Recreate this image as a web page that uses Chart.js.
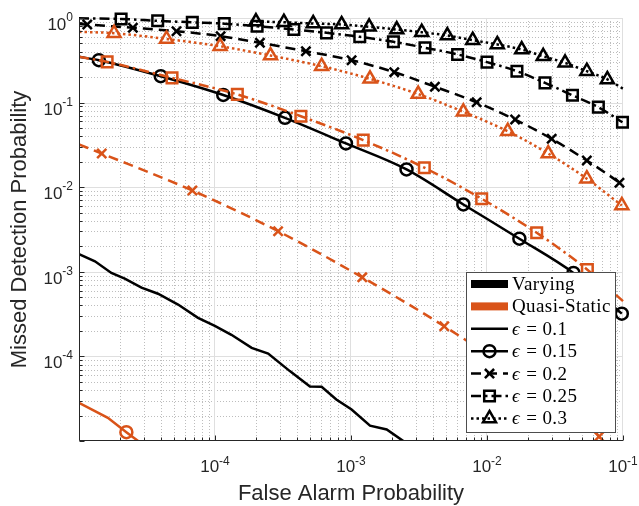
<!DOCTYPE html>
<html>
<head>
<meta charset="utf-8">
<script src="https://cdn.jsdelivr.net/npm/chart.js@4.4.1/dist/chart.umd.min.js"></script>
<style>
  html, body { margin: 0; padding: 0; background: #fff; }
  canvas { display: block; }
</style>
</head>
<body>
<canvas id="chart" width="639" height="506"></canvas>
<script>
// values: false alarm prob (x) vs missed detection prob (y)
const epsLabels = ['0.1', '0.15', '0.2', '0.25', '0.3'];
const groupNames = ['Varying', 'Quasi-Static'];

// Varying
const vFa10 = [1.0e-5, 1.31e-5, 1.73e-5, 2.17e-5, 2.88e-5, 3.81e-5, 5.35e-5, 7.5e-5, 9.97e-5, 1.32e-4, 1.86e-4, 2.46e-4, 3.55e-4, 4.99e-4, 6.08e-4, 7.8e-4, 1.01e-3, 1.38e-3, 1.83e-3, 2.42e-3, 2.9e-3];
const vMd10 = [1.62e-3, 1.33e-3, 9.7e-4, 8.3e-4, 6.5e-4, 5.5e-4, 4.1e-4, 2.86e-4, 2.3e-4, 1.8e-4, 1.26e-4, 1.08e-4, 6.7e-5, 4.4e-5, 4.37e-5, 3.1e-5, 2.36e-5, 1.52e-5, 1.37e-5, 1.0e-5, 7e-6];

const vFa15 = [1e-5, 1.40e-5, 3.99e-5, 1.15e-4, 3.27e-4, 9.18e-4, 2.56e-3, 6.70e-3, 1.73e-2, 4.32e-2, 9.8e-2];
const vMd15 = [0.348, 0.317, 0.205, 0.123, 0.066, 0.0329, 0.0162, 6.25e-3, 2.46e-3, 9.7e-4, 3.2e-4];
const vMk15 = [1, 2, 3, 4, 5, 6, 7, 8, 9, 10];

const vFa20 = [1e-5, 1.15e-5, 2.49e-5, 5.21e-5, 1.10e-4, 2.14e-4, 4.66e-4, 1.01e-3, 2.08e-3, 4.14e-3, 8.39e-3, 1.61e-2, 2.99e-2, 5.42e-2, 9.42e-2, 1e-1];
const vMd20 = [0.85, 0.838, 0.766, 0.698, 0.610, 0.509, 0.405, 0.317, 0.229, 0.154, 0.101, 0.063, 0.0373, 0.0207, 0.0113, 0.0105];
const vMk20 = [1, 2, 3, 4, 5, 6, 7, 8, 9, 10, 11, 12, 13, 14];

const vFa25 = [1e-5, 2.04e-5, 3.79e-5, 6.81e-5, 1.17e-4, 2.04e-4, 3.80e-4, 6.61e-4, 1.16e-3, 2.05e-3, 3.50e-3, 6.08e-3, 1.00e-2, 1.66e-2, 2.67e-2, 4.25e-2, 6.59e-2, 9.91e-2];
const vMd25 = [0.99, 0.973, 0.927, 0.889, 0.857, 0.800, 0.731, 0.668, 0.600, 0.523, 0.445, 0.371, 0.301, 0.235, 0.171, 0.122, 0.0883, 0.0586];
const vMk25 = [1, 2, 3, 4, 5, 6, 7, 8, 9, 10, 11, 12, 13, 14, 15, 16, 17];

const vFa30 = [2.00e-4, 3.21e-4, 5.27e-4, 8.53e-4, 1.36e-3, 2.17e-3, 3.31e-3, 5.11e-3, 7.85e-3, 1.19e-2, 1.80e-2, 2.59e-2, 3.75e-2, 5.42e-2, 7.67e-2, 1e-1];
const vMd30 = [0.909, 0.892, 0.861, 0.838, 0.787, 0.731, 0.679, 0.621, 0.547, 0.487, 0.424, 0.353, 0.295, 0.235, 0.188, 0.146];
const vMk30 = [0, 1, 2, 3, 4, 5, 6, 7, 8, 9, 10, 11, 12, 13, 14];

// Quasi-Static
const qFa15 = [1e-5, 1.31e-5, 1.63e-5, 2.23e-5, 2.72e-5, 3.5e-5];
const qMd15 = [2.83e-5, 2.25e-5, 1.88e-5, 1.27e-5, 1.0e-5, 7e-6];
const qMk15 = [3];

const qFa20 = [1e-5, 1.47e-5, 6.82e-5, 2.91e-4, 1.21e-3, 4.85e-3, 1.87e-2, 6.67e-2, 8.5e-2];
const qMd20 = [0.032, 0.025, 9.14e-3, 3.02e-3, 8.6e-4, 2.27e-4, 5.3e-5, 1.13e-5, 6e-6];
const qMk20 = [1, 2, 3, 4, 5, 6, 7];

const qFa25 = [1e-5, 1.61e-5, 4.83e-5, 1.46e-4, 4.28e-4, 1.23e-3, 3.46e-3, 9.14e-3, 2.32e-2, 5.47e-2, 1e-1];
const qMd25 = [0.348, 0.303, 0.196, 0.125, 0.069, 0.036, 0.0170, 7.3e-3, 2.89e-3, 1.06e-3, 4.5e-4];
const qMk25 = [1, 2, 3, 4, 5, 6, 7, 8, 9];

const qFa30 = [1e-5, 1.81e-5, 4.40e-5, 1.09e-4, 2.56e-4, 6.08e-4, 1.38e-3, 3.12e-3, 6.70e-3, 1.42e-2, 2.82e-2, 5.42e-2, 9.8e-2];
const qMd30 = [0.687, 0.661, 0.565, 0.464, 0.360, 0.269, 0.191, 0.126, 0.0778, 0.0459, 0.025, 0.0126, 6.08e-3];
const qMk30 = [1, 2, 3, 4, 5, 6, 7, 8, 9, 10, 11, 12];

const xTickExp = [-4, -3, -2, -1];
const yTickExp = [0, -1, -2, -3, -4];

// styles
const BLACK = '#000000';
const ORANGE = '#D95319';
const LW = 2.5;
const epsDash = [[], [], [10, 6], [10, 4, 2.5, 4], [2.5, 3]];
const epsMarker = [null, 'circle', 'crossRot', 'rect', 'triangle'];
const epsRadius = [0, 6, 6.5, 7.5, 7.5];
const SANS = '"Liberation Sans", Arial, Helvetica, sans-serif';
const SERIF = '"Liberation Serif", "DejaVu Serif", serif';

function makeSet(fa, md, marks, eps, color, order, smooth) {
  return {
    data: fa.map((x, i) => ({ x: x, y: md[i] })),
    borderColor: color,
    backgroundColor: 'transparent',
    borderWidth: LW,
    borderDash: epsDash[eps],
    borderCapStyle: 'butt',
    pointStyle: epsMarker[eps] || 'circle',
    pointRadius: fa.map((_, i) => marks.includes(i) ? epsRadius[eps] : 0),
    pointBorderWidth: LW,
    pointBorderColor: color,
    pointBackgroundColor: 'transparent',
    cubicInterpolationMode: smooth ? 'monotone' : 'default',
    tension: 0,
    order: order,
    clip: { left: 0, top: 10, right: 10, bottom: 0 },
  };
}

const datasets = [
  makeSet(qFa15, qMd15, qMk15, 1, ORANGE, 1, false),
  makeSet(qFa20, qMd20, qMk20, 2, ORANGE, 2, true),
  makeSet(qFa25, qMd25, qMk25, 3, ORANGE, 3, true),
  makeSet(qFa30, qMd30, qMk30, 4, ORANGE, 4, true),
  makeSet(vFa10, vMd10, [], 0, BLACK, 5, false),
  makeSet(vFa15, vMd15, vMk15, 1, BLACK, 6, true),
  makeSet(vFa20, vMd20, vMk20, 2, BLACK, 7, true),
  makeSet(vFa25, vMd25, vMk25, 3, BLACK, 8, true),
  makeSet(vFa30, vMd30, vMk30, 4, BLACK, 9, true),
];

function drawMarker(ctx, style, r, x, y) {
  ctx.beginPath();
  if (style === 'circle') {
    ctx.arc(x, y, r, 0, Math.PI * 2);
  } else if (style === 'rect') {
    const s = Math.SQRT1_2 * r;
    ctx.rect(x - s, y - s, 2 * s, 2 * s);
  } else if (style === 'triangle') {
    ctx.moveTo(x, y - r);
    ctx.lineTo(x + 0.866 * r, y + 0.5 * r);
    ctx.lineTo(x - 0.866 * r, y + 0.5 * r);
    ctx.closePath();
  } else if (style === 'crossRot') {
    const o = Math.SQRT1_2 * r;
    ctx.moveTo(x - o, y - o); ctx.lineTo(x + o, y + o);
    ctx.moveTo(x + o, y - o); ctx.lineTo(x - o, y + o);
  }
  ctx.stroke();
}

function supLabel(ctx, exp, x, y, anchor, baseOff, supOff) {
  const base = '10', sup = String(exp);
  ctx.font = '17px ' + SANS;
  const wb = ctx.measureText(base).width;
  ctx.font = '12px ' + SANS;
  const ws = ctx.measureText(sup).width;
  const left = anchor === 'center' ? x - (wb + ws) / 2 : x - (wb + ws);
  ctx.textAlign = 'left';
  ctx.textBaseline = 'alphabetic';
  ctx.font = '17px ' + SANS;
  ctx.fillText(base, left, y + baseOff);
  ctx.font = '12px ' + SANS;
  ctx.fillText(sup, left + wb, y + supOff);
}

const matlabAxes = {
  id: 'matlabAxes',
  beforeDatasetsDraw(chart) {
    const { ctx, chartArea: a, scales: { x, y } } = chart;
    ctx.save();
    ctx.lineWidth = 1;
    // minor grid (dotted)
    ctx.strokeStyle = '#bdbdbd';
    ctx.setLineDash([1, 2]);
    ctx.beginPath();
    for (let e = -5; e < -1; e++) {
      for (let k = 2; k < 10; k++) {
        const px = Math.round(x.getPixelForValue(k * Math.pow(10, e))) + 0.5;
        ctx.moveTo(px, a.top); ctx.lineTo(px, a.bottom);
      }
    }
    for (let e = -5; e < 0; e++) {
      for (let k = 2; k < 10; k++) {
        const py = Math.round(y.getPixelForValue(k * Math.pow(10, e))) + 0.5;
        ctx.moveTo(a.left, py); ctx.lineTo(a.right, py);
      }
    }
    ctx.stroke();
    // major grid
    ctx.setLineDash([]);
    ctx.strokeStyle = '#dfdfdf';
    ctx.beginPath();
    for (let e = -4; e <= -1; e++) {
      const px = Math.round(x.getPixelForValue(Math.pow(10, e))) - 0.5;
      ctx.moveTo(px, a.top); ctx.lineTo(px, a.bottom);
    }
    for (let e = -4; e <= 0; e++) {
      const py = Math.round(y.getPixelForValue(Math.pow(10, e))) + 0.5;
      ctx.moveTo(a.left, py); ctx.lineTo(a.right, py);
    }
    ctx.stroke();
    ctx.restore();
  },
  afterDatasetsDraw(chart) {
    const { ctx, chartArea: a, scales: { x, y } } = chart;
    ctx.save();
    const L = Math.round(a.left) + 0.5, B = Math.round(a.bottom) - 0.5;
    ctx.strokeStyle = '#262626';
    ctx.lineWidth = 1;
    ctx.beginPath();
    ctx.moveTo(L, a.top); ctx.lineTo(L, B); ctx.lineTo(a.right, B);
    // ticks, inward
    for (let e = -5; e <= -1; e++) {
      for (let k = 1; k < 10; k++) {
        const v = k * Math.pow(10, e);
        if (v > 0.1 * 1.0001) break;
        const px = Math.round(x.getPixelForValue(v)) + 0.5;
        const len = k === 1 ? 5 : 3;
        ctx.moveTo(px, B); ctx.lineTo(px, B - len);
      }
    }
    for (let e = -5; e <= 0; e++) {
      for (let k = 1; k < 10; k++) {
        const v = k * Math.pow(10, e);
        if (v > 1.0001) break;
        const py = Math.round(y.getPixelForValue(v)) + 0.5;
        const len = k === 1 ? 5 : 3;
        ctx.moveTo(L, py); ctx.lineTo(L + len, py);
      }
    }
    ctx.stroke();

    // tick labels
    ctx.fillStyle = '#262626';
    xTickExp.forEach(e => supLabel(ctx, e, x.getPixelForValue(Math.pow(10, e)), a.bottom, 'center', 31, 24));
    yTickExp.forEach(e => supLabel(ctx, e, a.left - 6, y.getPixelForValue(Math.pow(10, e)), 'right', 12, 3));

    // axis titles
    ctx.font = '22px ' + SANS;
    ctx.textAlign = 'center';
    ctx.textBaseline = 'middle';
    ctx.fillText('False Alarm Probability', (a.left + a.right) / 2, 494);
    ctx.translate(20, (a.top + a.bottom) / 2);
    ctx.rotate(-Math.PI / 2);
    ctx.fillText('Missed Detection Probability', 0, 0);
    ctx.restore();

    // legend
    ctx.save();
    const bx = 466, by = 272, bw = 149, bh = 160;
    ctx.fillStyle = '#ffffff';
    ctx.fillRect(bx, by, bw, bh);
    ctx.strokeStyle = '#4d4d4d';
    ctx.lineWidth = 1;
    ctx.strokeRect(bx + 0.5, by + 0.5, bw, bh);
    const x0 = 471, x1 = 508, tx = 512, row = 22.4;
    let ry = 284;
    ctx.textAlign = 'left';
    ctx.textBaseline = 'middle';
    ctx.letterSpacing = '0.4px';
    [BLACK, ORANGE].forEach((c, i) => {
      ctx.fillStyle = c;
      ctx.fillRect(x0, ry - 4, x1 - x0, 8);
      ctx.fillStyle = '#000';
      ctx.font = '19px ' + SERIF;
      ctx.fillText(groupNames[i], tx, ry + 1);
      ry += row;
    });
    epsLabels.forEach((lab, i) => {
      ctx.strokeStyle = BLACK;
      ctx.lineWidth = LW;
      ctx.setLineDash(epsDash[i]);
      ctx.beginPath();
      ctx.moveTo(x0, ry); ctx.lineTo(x1, ry);
      ctx.stroke();
      ctx.setLineDash([]);
      if (epsMarker[i]) drawMarker(ctx, epsMarker[i], epsRadius[i], (x0 + x1) / 2, ry);
      ctx.fillStyle = '#000';
      ctx.font = 'italic 19px ' + SERIF;
      ctx.fillText('\u03F5', tx, ry + 1);
      const we = ctx.measureText('\u03F5').width;
      ctx.font = '19px ' + SERIF;
      ctx.fillText(' = ' + lab, tx + we + 1, ry + 1);
      ry += row;
    });
    ctx.restore();
  }
};

new Chart(document.getElementById('chart'), {
  type: 'line',
  data: { datasets: datasets },
  options: {
    responsive: false,
    animation: false,
    devicePixelRatio: 1,
    layout: { padding: { left: 79, top: 18, right: 16, bottom: 65 } },
    scales: {
      x: { type: 'logarithmic', min: 1e-5, max: 1e-1, display: false },
      y: { type: 'logarithmic', min: 1e-5, max: 1, display: false },
    },
    plugins: { legend: { display: false }, tooltip: { enabled: false } },
  },
  plugins: [matlabAxes],
});
</script>
</body>
</html>
